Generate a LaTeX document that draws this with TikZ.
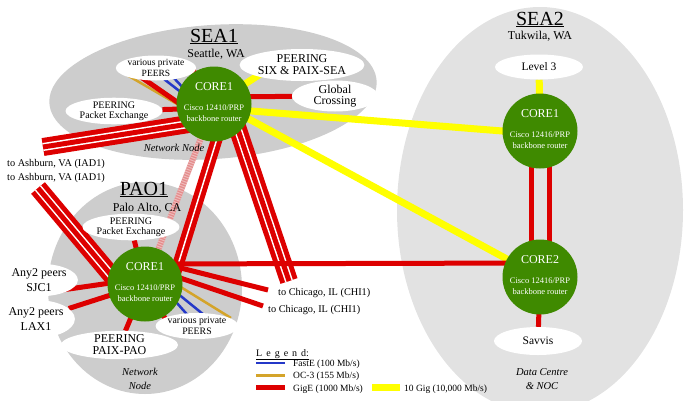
\documentclass[tikz,border=0pt]{standalone}
\usepackage{fontspec}
\setmainfont{Liberation Serif}
\usetikzlibrary{shapes.geometric,calc}
\definecolor{gig}{HTML}{DD0000}
\definecolor{tengig}{HTML}{FFFF00}
\definecolor{faste}{HTML}{2438C8}
\definecolor{octhree}{HTML}{D4A42A}
\definecolor{coregreen}{HTML}{3F8A00}
\definecolor{zonegray}{HTML}{CDCDCD}
\definecolor{zonelight}{HTML}{E2E2E2}
\definecolor{pinkc}{HTML}{E48C8C}
\newcommand\myfs[2]{\fontsize{#1}{#2}\selectfont}
\pgfdeclarelayer{zones}
\pgfdeclarelayer{links}
\pgfsetlayers{zones,links,main}
\begin{document}
\begin{tikzpicture}[x=1pt,y=-1pt,
  zone/.style={ellipse, fill=zonegray, inner sep=0pt},
  core/.style={circle, fill=coregreen, minimum size=75pt, inner sep=0pt},
  coretitle/.style={text=white, font=\myfs{12}{14}, inner sep=0pt},
  coresub/.style={text=white, font=\myfs{8.5}{11}, align=center, inner sep=0pt},
  peer/.style={ellipse, fill=white, inner sep=0pt, align=center},
  zonetitle/.style={font=\myfs{20}{22}, inner sep=0pt, anchor=base},
  zoneplace/.style={font=\myfs{12}{14}, inner sep=0pt, anchor=base},
  lbl/.style={font=\myfs{10.3}{12}, inner sep=0pt, anchor=base west},
  nodenote/.style={font=\myfs{10.5}{13.5}\itshape, inner sep=0pt, align=center},
  legtext/.style={font=\myfs{9.5}{11}, inner sep=0pt, anchor=base west},
  gigline/.style={draw=gig, line width=5pt},
  gigtwo/.style={draw=gig, line width=5pt, double=white, double distance=1.5pt},
  gigthree/.style={preaction={draw=gig, line width=5pt, double=white, double distance=8pt}, draw=gig, line width=5pt},
  tenline/.style={draw=tengig, line width=7pt},
  fastline/.style={draw=faste, line width=2.5pt},
  ocline/.style={draw=octhree, line width=2.5pt},
  hatched/.style={draw=pinkc, line width=6pt, postaction={draw=white, draw opacity=0.4, line width=6pt, dash pattern=on 1pt off 1.5pt}}
]
\useasboundingbox (0,0) rectangle (693,400);

% zones
\begin{pgfonlayer}{zones}
\node[zone, rotate=4, minimum width=328pt, minimum height=134pt] (zsea1) at (213,92) {};
\node[zone, minimum width=194pt, minimum height=212pt] (zpao1) at (145,288) {};
\node[zone, fill=zonelight, minimum width=286pt, minimum height=406pt] (zsea2) at (540,210) {};
\end{pgfonlayer}

% titles
\node[zonetitle] (tsea1) at (214,42) {\underline{SEA1}};
\node[zoneplace] (psea1) at (216,57) {Seattle, WA};
\node[zonetitle] (tpao1) at (144,195) {\underline{PAO1}};
\node[zoneplace] (ppao1) at (147,211) {Palo Alto, CA};
\node[zonetitle] (tsea2) at (540,25) {\underline{SEA2}};
\node[zoneplace] (psea2) at (540,39) {Tukwila, WA};

% cores
\node[core] (S1) at (214,104) {};
\node[core] (P1) at (145,284) {};
\node[core] (T1) at (540,131) {};
\node[core] (T2) at (540,277) {};
\node[coretitle] (S1a) at ($(S1)+(0,-17)$) {CORE1};
\node[coresub] (S1b) at ($(S1)+(0,9.5)$) {Cisco 12410/PRP\\backbone router};
\node[coretitle] (P1a) at ($(P1)+(0,-17)$) {CORE1};
\node[coresub] (P1b) at ($(P1)+(0,9.5)$) {Cisco 12410/PRP\\backbone router};
\node[coretitle] (T1a) at ($(T1)+(0,-17)$) {CORE1};
\node[coresub] (T1b) at ($(T1)+(0,9.5)$) {Cisco 12416/PRP\\backbone router};
\node[coretitle] (T2a) at ($(T2)+(0,-17)$) {CORE2};
\node[coresub] (T2b) at ($(T2)+(0,9.5)$) {Cisco 12416/PRP\\backbone router};

% peer ellipses
\node[peer, minimum width=80pt, minimum height=25pt, font=\myfs{9.5}{11}] (pp1) at (156,68) {various private\\PEERS};
\node[peer, minimum width=117pt, minimum height=32pt, font=\myfs{12}{12}] (six) at (302,65) {PEERING\\SIX \& PAIX-SEA};
\node[peer, minimum width=86pt, minimum height=28pt, font=\myfs{12}{11}] (gc) at (335,96) {Global\\Crossing};
\node[peer, minimum width=82pt, minimum height=26pt, font=\myfs{10}{10}] (pe1) at (114,111) {PEERING\\Packet Exchange};
\node[peer, minimum width=80pt, minimum height=24pt, font=\myfs{10}{10}] (pe2) at (131,227) {PEERING\\Packet Exchange};
\node[peer, minimum width=76pt, minimum height=32pt, font=\myfs{12}{15}] (sjc) at (39,280) {Any2 peers\\SJC1};
\node[peer, minimum width=76pt, minimum height=38pt, font=\myfs{12}{15}] (lax) at (36,319) {Any2 peers\\LAX1};
\node[peer, minimum width=117pt, minimum height=28pt, font=\myfs{12}{12}] (paix) at (119.5,345) {PEERING\\PAIX-PAO};
\node[peer, minimum width=80pt, minimum height=26pt, font=\myfs{9.8}{11}] (pp2) at (197,326) {various private\\PEERS};
\node[peer, minimum width=88pt, minimum height=25pt, font=\myfs{11.5}{13}] (lv3) at (539,67) {Level 3};
\node[peer, minimum width=88pt, minimum height=28pt, font=\myfs{11.5}{13}] (savvis) at (538,341) {Savvis};

% notes
\node[nodenote] (nn1) at (174,148) {Network Node};
\node[nodenote] (nn2) at (140,379) {Network\\Node};
\node[nodenote] (nn3) at (542,379) {Data Centre\\\& NOC};

% free ends
\coordinate (ash1) at (43,147);
\coordinate (ash2) at (38,188);
\coordinate (ch1) at (289,281);
\coordinate (chA) at (268,290);
\coordinate (chB) at (263,306);
\coordinate (o1) at (127,75);
\coordinate (r1) at (138,75);
\coordinate (b1) at (160,76);
\coordinate (b2) at (172,76);
\coordinate (r2) at (193,70);
\coordinate (o2) at (231,318);
\coordinate (b3) at (209,319);
\coordinate (b4) at (192,320);
\coordinate (r3) at (166,320);
\coordinate (sjcend) at (62,290);

% external labels
\node[lbl] (lash1) at (7,166) {to Ashburn, VA (IAD1)};
\node[lbl] (lash2) at (7,180) {to Ashburn, VA (IAD1)};
\node[lbl] (lchi1) at (278,295) {to Chicago, IL (CHI1)};
\node[lbl] (lchi2) at (268,312) {to Chicago, IL (CHI1)};

% links
\begin{pgfonlayer}{links}
\draw[gigthree] (ash1) -- ($(S1)+(0,16)$);
\draw[gigline] (pe1) -- ($(S1)+(0,4)$);
\draw[gigline] ($(S1)+(0,-7)$) -- (gc);
\draw[ocline] (o1) -- ($(S1)+(-18,11)$);
\draw[gigline] (r1) -- ($(S1)+(-18,11)$);
\draw[fastline] (b1) -- ($(S1)+(-10,6)$);
\draw[fastline] (b2) -- ($(S1)+(-10,6)$);
\draw[gigline] (r2) -- (S1.center);
\draw[tenline] (S1.center) -- ($(six)+(-40,8)$);
\draw[tenline] ($(S1)+(0,4)$) -- ($(T1)+(0,3)$);
\draw[tenline] ($(S1)+(0,-4)$) -- (T2.center);
\draw[gigthree] ($(S1)+(14,-4)$) -- (ch1);
\draw[gigtwo] ($(S1)+(15,-4)$) -- ($(P1)+(27,0)$);
\draw[hatched] (S1.center) -- (P1.center);
\draw[gigthree] (ash2) -- ($(P1)+(-23,4)$);
\draw[gigline] (sjcend) -- ($(P1)+(0,-6)$);
\draw[gigline] (lax) -- (P1.center);
\draw[gigline] (paix) -- (P1.center);
\draw[gigline] (pe2) -- (P1.center);
\draw[gigline] ($(P1)+(0,-20)$) -- ($(T2)+(0,-14)$);
\draw[gigline] ($(P1)+(0,-25)$) -- (chA);
\draw[gigline] ($(P1)+(0,-18)$) -- (chB);
\draw[ocline] ($(P1)+(0,-19)$) -- (o2);
\draw[fastline] ($(P1)+(0,-17)$) -- (b3);
\draw[fastline] ($(P1)+(0,-17)$) -- (b4);
\draw[gigline] (P1.center) -- (r3);
\draw[tenline] (lv3) -- (T1.center);
\draw[gigline] ($(T1)+(-9,0)$) -- ($(T2)+(-9,0)$);
\draw[gigline] ($(T1)+(9,0)$) -- ($(T2)+(9,0)$);
\draw[gigline] (T2.center) -- (savvis);
\end{pgfonlayer}

% legend
\node[font=\myfs{10}{12}, inner sep=0pt, anchor=base west] (legT) at (256,356) {\underline{L\hspace{4pt}e\hspace{4pt}g\hspace{4pt}e\hspace{4pt}n\hspace{4pt}d:}};
\draw[fastline] (256,363) -- (285,363);
\draw[ocline] (256,375.5) -- (285,375.5);
\draw[gigline] (256,387.5) -- (285,387.5);
\draw[tenline] (372,387.5) -- (400,387.5);
\node[legtext] (leg1) at (293,366) {FastE (100 Mb/s)};
\node[legtext] (leg2) at (293,378.5) {OC-3 (155 Mb/s)};
\node[legtext] (leg3) at (293,391) {GigE (1000 Mb/s)};
\node[legtext] (leg4) at (404,391) {10 Gig (10,000 Mb/s)};
\end{tikzpicture}
\end{document}
